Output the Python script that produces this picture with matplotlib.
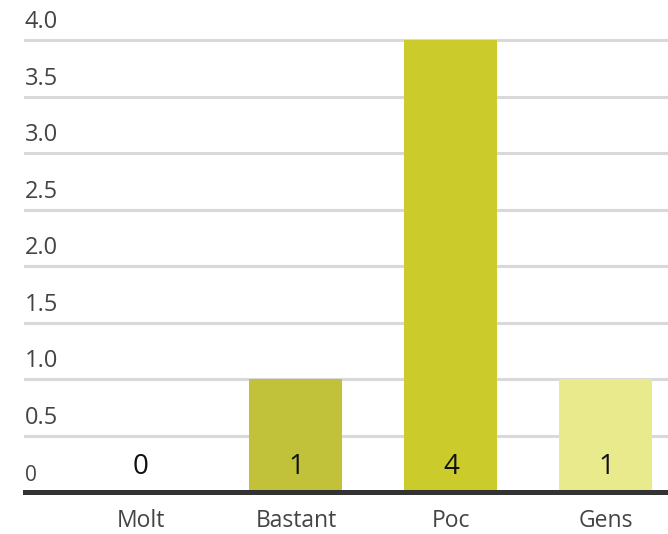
import matplotlib
matplotlib.use("Agg")
import matplotlib.pyplot as plt
from matplotlib.transforms import offset_copy

categories = ["Molt", "Bastant", "Poc", "Gens"]
values = [0, 1, 4, 1]
colors = ["#c1c23a", "#c1c23a", "#cbcc2b", "#e9ea8c"]
yticks = [0, 0.5, 1.0, 1.5, 2.0, 2.5, 3.0, 3.5, 4.0]
ytick_labels = ["0", "0.5", "1.0", "1.5", "2.0", "2.5", "3.0", "3.5", "4.0"]

plt.rcParams['font.family'] = ['Open Sans', 'DejaVu Sans']

fig = plt.figure(figsize=(6.68, 5.34), dpi=100)
ax = fig.add_axes([25/668, 1-492/534, 1-25/668, (492-40)/534])

x = list(range(len(categories)))
ax.bar(x, values, width=0.6, color=colors, zorder=2)
ax.set_xlim(-0.748, 3.4)
ax.set_ylim(0, 4.0)

for yv in yticks[1:]:
    ax.axhline(yv, color="#d9d9d9", lw=2.2, zorder=1, clip_on=False)
ax.axhline(0, color="#333333", lw=3.6, zorder=3, clip_on=False)

tr = offset_copy(ax.get_yaxis_transform(), fig=fig, x=0, y=6, units="dots")
for yv, lab in zip(yticks, ytick_labels):
    ax.text(0, yv, lab, transform=tr, ha="left", va="bottom",
            fontsize=17 if yv > 0 else 15, color="#444444")

for xi, v in zip(x, values):
    ax.text(xi, 0.16, str(v), ha="center", va="baseline", fontsize=20, color="#111111", zorder=4)

ax.set_xticks(x)
ax.set_xticklabels(categories, fontsize=16.5, color="#444444")
ax.tick_params(axis="x", length=0, pad=12)
ax.set_yticks([])
for s in ax.spines.values():
    s.set_visible(False)

fig.savefig("out.png", dpi=100)
